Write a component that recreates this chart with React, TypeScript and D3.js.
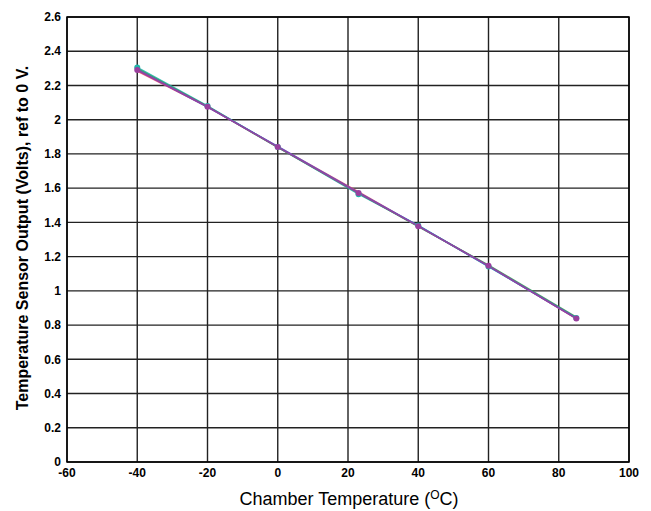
import * as d3 from 'd3';

// chamber temperatures (°C) where readings were taken
const temps = [-40, -20, 0, 23, 40, 60, 85];

// sensor outputs (V) for each unit
const unitRed = [2.285, 2.075, 1.842, 1.578, 1.378, 1.146, 0.838];
const unitTeal = [2.305, 2.080, 1.840, 1.565, 1.382, 1.142, 0.842];
const unitGreen = [2.298, 2.078, 1.838, 1.572, 1.376, 1.150, 0.846];
const unitBlue = [2.292, 2.074, 1.844, 1.574, 1.380, 1.144, 0.840];
const unitPurple = [2.290, 2.076, 1.840, 1.572, 1.378, 1.146, 0.838];

const xTicks = [-60, -40, -20, 0, 20, 40, 60, 80, 100];
const yTicks = [0, 0.2, 0.4, 0.6, 0.8, 1, 1.2, 1.4, 1.6, 1.8, 2, 2.2, 2.4, 2.6];

const series = [
    { name: 'red', values: unitRed, color: '#e8406a' },
    { name: 'teal', values: unitTeal, color: '#1fb5a8' },
    { name: 'green', values: unitGreen, color: '#3a9a5a' },
    { name: 'blue', values: unitBlue, color: '#5060d0' },
    { name: 'purple', values: unitPurple, color: '#9a3f9e' },
];

const width = 651;
const height = 511;
const margin = { top: 17, right: 22, bottom: 49, left: 67 };

export default function App() {
    const innerW = width - margin.left - margin.right;
    const innerH = height - margin.top - margin.bottom;

    const x = d3.scaleLinear().domain([-60, 100]).range([0, innerW]);
    const y = d3.scaleLinear().domain([0, 2.6]).range([innerH, 0]);

    const line = d3.line<number>()
        .x((_, i) => x(temps[i]))
        .y(d => y(d));

    const fmt = (v: number) => d3.format('~g')(+v.toFixed(1));
    const font = '"Liberation Sans", Arial, sans-serif';

    return (
        <svg width={width} height={height} style={{ display: 'block', position: 'absolute', left: 0, top: 0 }}>
            <rect width={width} height={height} fill="#fff" />
            <g transform={`translate(${margin.left},${margin.top})`}>
                {/* grid */}
                {xTicks.map(t => (
                    <line key={'gx' + t} x1={x(t)} x2={x(t)} y1={0} y2={innerH}
                        stroke="#222" strokeWidth={1.4} />
                ))}
                {yTicks.map(t => (
                    <line key={'gy' + t} x1={0} x2={innerW} y1={y(t)} y2={y(t)}
                        stroke="#222" strokeWidth={1.4} />
                ))}
                <rect x={0} y={0} width={innerW} height={innerH} fill="none" stroke="#000" strokeWidth={1.5} />

                {/* lines */}
                {series.map(s => (
                    <path key={s.name} d={line(s.values) ?? ''} fill="none"
                        stroke={s.color} strokeWidth={1.6} opacity={0.9} />
                ))}
                {/* markers */}
                {series.filter(s => s.name === 'teal' || s.name === 'purple').map(s => (
                    <g key={'m' + s.name}>
                        {s.values.map((v, i) => (
                            <circle key={i} cx={x(temps[i])} cy={y(v)} r={3} fill={s.color} />
                        ))}
                    </g>
                ))}

                {/* tick labels */}
                {xTicks.map(t => (
                    <text key={'tx' + t} x={x(t)} y={innerH + 15} textAnchor="middle"
                        fontFamily={font} fontWeight="bold" fontSize={12} fill="#000">{t}</text>
                ))}
                {yTicks.map(t => (
                    <text key={'ty' + t} x={-6} y={y(t)} dy="0.35em" textAnchor="end"
                        fontFamily={font} fontWeight="bold" fontSize={12} fill="#000">{fmt(t)}</text>
                ))}

                {/* axis titles */}
                <text x={innerW / 2 + 1} y={innerH + 43} textAnchor="middle"
                    fontFamily={font} fontSize={18} fill="#000">
                    Chamber Temperature (<tspan dy={-6} fontSize={12}>O</tspan><tspan dy={6}>C)</tspan>
                </text>
                <text transform={`translate(${-39},${221}) rotate(-90)`} textAnchor="middle"
                    fontFamily={font} fontWeight="bold" fontSize={16} fill="#000">
                    Temperature Sensor Output (Volts), ref to 0 V.
                </text>
            </g>
        </svg>
    );
}
